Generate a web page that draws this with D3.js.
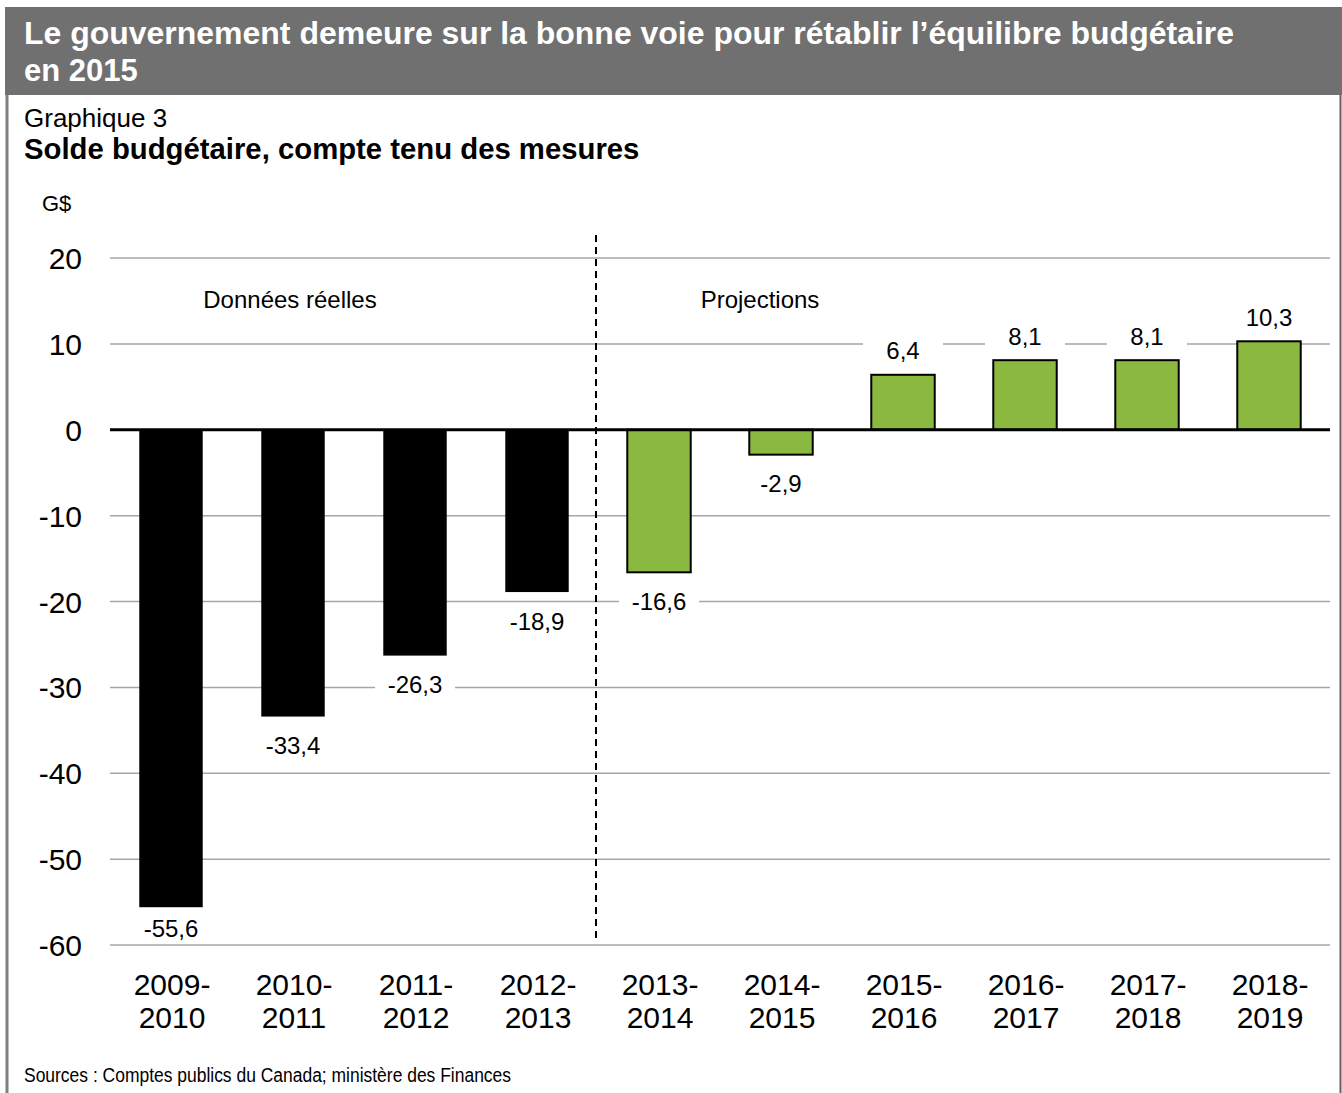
<!DOCTYPE html>
<html>
<head>
<meta charset="utf-8">
<script src="https://cdn.jsdelivr.net/npm/d3@7"></script>
<style>
  body { margin: 0; background: #fff; }
  svg { display: block; font-family: "Liberation Sans", Arial, sans-serif; }
</style>
</head>
<body>
<div id="chart"></div>
<script>
// data
const categories = ["2009-2010", "2010-2011", "2011-2012", "2012-2013", "2013-2014",
                    "2014-2015", "2015-2016", "2016-2017", "2017-2018", "2018-2019"];
const values = [-55.6, -33.4, -26.3, -18.9, -16.6, -2.9, 6.4, 8.1, 8.1, 10.3];
const actualCount = 4; // first 4 are "Données réelles"
const yTicks = [20, 10, 0, -10, -20, -30, -40, -50, -60];

const width = 1342, height = 1093;
const svg = d3.select("#chart").append("svg").attr("width", width).attr("height", height);

// frame
svg.append("rect").attr("x", 5).attr("y", 7).attr("width", width - 5).attr("height", 88).attr("fill", "#707070");
svg.append("line").attr("x1", 7).attr("x2", 7).attr("y1", 95).attr("y2", height).attr("stroke", "#808080").attr("stroke-width", 3);
svg.append("line").attr("x1", 1340.5).attr("x2", 1340.5).attr("y1", 95).attr("y2", height).attr("stroke", "#606060").attr("stroke-width", 2);

svg.append("text").attr("x", 24).attr("y", 44).attr("fill", "#fff").attr("font-weight", "bold").attr("font-size", 31)
    .attr("textLength", 1210).attr("lengthAdjust", "spacingAndGlyphs")
    .text("Le gouvernement demeure sur la bonne voie pour rétablir l’équilibre budgétaire");
svg.append("text").attr("x", 24).attr("y", 81).attr("fill", "#fff").attr("font-weight", "bold").attr("font-size", 31)
    .text("en 2015");

svg.append("text").attr("x", 24).attr("y", 127).attr("font-size", 26).text("Graphique 3");
svg.append("text").attr("x", 24).attr("y", 159).attr("font-size", 29.3).attr("font-weight", "bold")
    .text("Solde budgétaire, compte tenu des mesures");
svg.append("text").attr("x", 42).attr("y", 211).attr("font-size", 22).text("G$");

// scales
const x = d3.scaleBand().domain(categories).range([110, 1330]).paddingInner(0.48).paddingOuter(0.24);
const y = d3.scaleLinear().domain([-60, 20]).range([945, 258]);

// gridlines
svg.append("g").selectAll("line").data(yTicks.filter(d => d !== 0)).join("line")
    .attr("x1", 110).attr("x2", 1330)
    .attr("y1", d => y(d)).attr("y2", d => y(d))
    .attr("stroke", "#a6a6a6").attr("stroke-width", 1.5);

// y axis labels
svg.append("g").selectAll("text").data(yTicks).join("text")
    .attr("x", 82).attr("y", d => y(d) + 11)
    .attr("text-anchor", "end").attr("font-size", 30)
    .text(d => d);

// bars
svg.append("g").selectAll("rect").data(values).join("rect")
    .attr("x", (d, i) => x(categories[i]))
    .attr("width", x.bandwidth())
    .attr("y", d => y(Math.max(0, d)))
    .attr("height", d => Math.abs(y(d) - y(0)))
    .attr("fill", (d, i) => i < actualCount ? "#000" : "#8bb83f")
    .attr("stroke", (d, i) => i < actualCount ? "none" : "#000")
    .attr("stroke-width", 2);

// zero line
svg.append("line").attr("x1", 110).attr("x2", 1330).attr("y1", y(0)).attr("y2", y(0))
    .attr("stroke", "#000").attr("stroke-width", 3);

// divider
const divX = (x(categories[actualCount - 1]) + x.bandwidth() + x(categories[actualCount])) / 2;
svg.append("line").attr("x1", divX - 2).attr("x2", divX - 2).attr("y1", 235).attr("y2", 942)
    .attr("stroke", "#000").attr("stroke-width", 2).attr("stroke-dasharray", "7,5");

svg.append("text").attr("x", 290).attr("y", 308).attr("text-anchor", "middle").attr("font-size", 24).text("Données réelles");
svg.append("text").attr("x", 760).attr("y", 308).attr("text-anchor", "middle").attr("font-size", 24).text("Projections");

// value labels with white backing (kept inside the plot area at the bottom)
const fmt = d => d3.format(".1f")(d).replace("−", "-").replace(".", ",");
const labelFloor = y(-60) - 17;
const labels = svg.append("g").selectAll("g").data(values).join("g")
    .attr("transform", (d, i) => {
        const cx = x(categories[i]) + x.bandwidth() / 2;
        const cy = d < 0 ? Math.min(y(d) + 29, labelFloor) : y(d) - 24;
        return `translate(${cx},${cy})`;
    });
labels.append("rect").attr("x", -40).attr("y", -14).attr("width", 80).attr("height", 28).attr("fill", "#fff");
labels.append("text").attr("text-anchor", "middle").attr("y", 8.5).attr("font-size", 24).text(d => fmt(d));

// category labels
const cat = svg.append("g").selectAll("text").data(categories).join("text")
    .attr("text-anchor", "middle").attr("font-size", 30)
    .attr("transform", d => `translate(${x(d) + x.bandwidth() / 2 + 1},0)`);
cat.append("tspan").attr("x", 0).attr("y", 995).text(d => d.split("-")[0] + "-");
cat.append("tspan").attr("x", 0).attr("y", 1028).text(d => d.split("-")[1]);

// source
svg.append("text").attr("x", 24).attr("y", 1082).attr("font-size", 20)
    .attr("textLength", 487).attr("lengthAdjust", "spacingAndGlyphs")
    .text("Sources : Comptes publics du Canada; ministère des Finances");
</script>
</body>
</html>
